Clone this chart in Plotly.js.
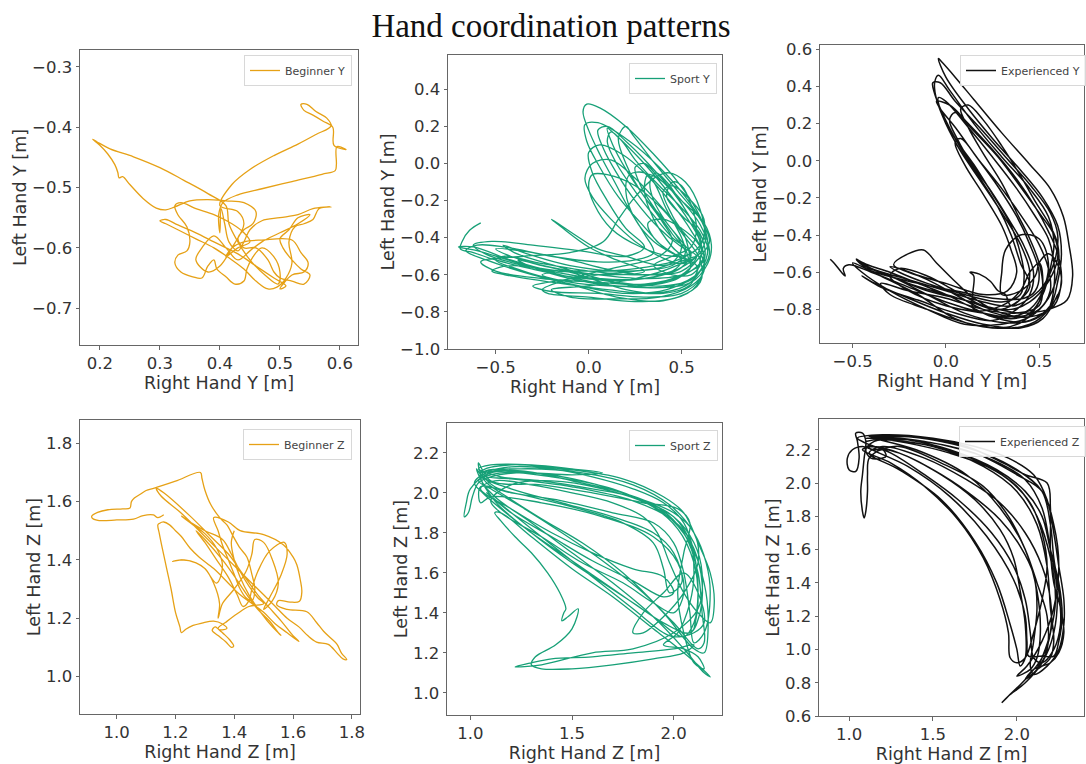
<!DOCTYPE html>
<html><head><meta charset="utf-8">
<script src="https://cdn.plot.ly/plotly-3.0.1.min.js"></script>
<style>html,body{margin:0;padding:0;background:#fff}#chart{width:1086px;height:764px}</style>
</head><body><div id="chart"></div>
<script>
// ---- data (x = right hand, y = left hand) ----
const beginnerY = [
[0.40,-0.53],[0.42,-0.495],[0.45,-0.47],[0.49,-0.447],[0.53,-0.428],[0.56,-0.412],[0.585,-0.398],[0.578,-0.385],[0.56,-0.374],[0.545,-0.362],[0.535,-0.362],[0.54,-0.372],[0.555,-0.38],[0.572,-0.39],[0.588,-0.4],[0.59,-0.43],[0.61,-0.437],[0.595,-0.432],[0.594,-0.462],[0.592,-0.472],[0.57,-0.478],[0.52,-0.49],[0.47,-0.502],[0.43,-0.512],[0.405,-0.525],
[0.398,-0.545],[0.40,-0.575],[0.402,-0.535],[0.408,-0.56],[0.415,-0.59],[0.43,-0.605],[0.44,-0.59],[0.45,-0.57],[0.47,-0.555],[0.5,-0.55],[0.53,-0.545],[0.555,-0.535],[0.585,-0.532],[0.565,-0.535],[0.555,-0.553],[0.54,-0.56],[0.525,-0.565],[0.515,-0.59],[0.52,-0.625],[0.51,-0.65],[0.495,-0.665],[0.48,-0.668],[0.46,-0.655],[0.44,-0.635],[0.42,-0.62],[0.39,-0.6],[0.36,-0.585],[0.33,-0.57],[0.31,-0.56],[0.3,-0.555],[0.31,-0.553],[0.33,-0.562],[0.36,-0.575],[0.39,-0.59],[0.43,-0.61],[0.46,-0.63],[0.49,-0.65],[0.51,-0.663],[0.5,-0.668],
[0.52,-0.645],[0.54,-0.64],[0.547,-0.625],[0.535,-0.608],[0.52,-0.587],[0.47,-0.587],[0.44,-0.59],[0.42,-0.6],[0.41,-0.615],[0.43,-0.6],[0.45,-0.59],[0.44,-0.575],[0.42,-0.56],[0.39,-0.545],[0.36,-0.535],[0.335,-0.525],[0.325,-0.53],[0.33,-0.545],[0.345,-0.565],[0.35,-0.59],[0.345,-0.605],[0.33,-0.612],[0.325,-0.625],[0.335,-0.64],[0.355,-0.648],[0.37,-0.65],[0.38,-0.63],[0.39,-0.62],[0.395,-0.635],[0.41,-0.648],[0.425,-0.66],[0.44,-0.655],[0.445,-0.635],[0.455,-0.615],[0.47,-0.6],[0.49,-0.615],[0.5,-0.64],[0.497,-0.66],
[0.475,-0.645],[0.45,-0.62],[0.43,-0.59],[0.415,-0.56],[0.41,-0.53],
[0.38,-0.51],[0.34,-0.488],[0.3,-0.467],[0.256,-0.449],[0.217,-0.436],[0.195,-0.424],[0.188,-0.42],[0.2,-0.43],[0.213,-0.444],[0.225,-0.462],[0.23,-0.475],[0.232,-0.484],[0.238,-0.482],[0.25,-0.495],[0.272,-0.518],[0.294,-0.534],[0.31,-0.537],[0.325,-0.532],[0.35,-0.522],[0.38,-0.52],[0.41,-0.522],[0.44,-0.525],[0.46,-0.54],
[0.455,-0.56],[0.44,-0.57],[0.43,-0.585],[0.44,-0.6],[0.46,-0.6],[0.48,-0.62],[0.49,-0.64],[0.5,-0.65],[0.52,-0.655],[0.54,-0.66],[0.55,-0.645],[0.535,-0.635],[0.52,-0.62],[0.505,-0.6],[0.5,-0.585],[0.515,-0.57],[0.53,-0.55],[0.55,-0.545],
[0.53,-0.56],[0.5,-0.575],[0.47,-0.59],[0.45,-0.605],[0.43,-0.62],[0.41,-0.6],[0.39,-0.58],[0.37,-0.6],[0.36,-0.62],[0.38,-0.64],[0.4,-0.63],[0.42,-0.6],[0.44,-0.56],[0.43,-0.54],[0.4,-0.53]
];
const sportY = [
[-0.58,-0.32],[-0.64,-0.36],[-0.68,-0.42],[-0.69,-0.46],[-0.62,-0.48],[-0.5,-0.52],[-0.3,-0.57],[-0.1,-0.61],[0.1,-0.63],[0.3,-0.62],[0.48,-0.57],[0.6,-0.48],[0.63,-0.38],[0.58,-0.25],[0.48,-0.1],[0.35,0.05],[0.2,0.2],[0.06,0.3],[-0.01,0.32],[-0.03,0.28],[0.0,0.18],[0.06,0.05],[0.14,-0.1],[0.22,-0.25],[0.3,-0.38],[0.35,-0.48],[0.25,-0.52],[0.05,-0.53],
[-0.2,-0.5],[-0.45,-0.45],[-0.6,-0.44],[-0.66,-0.47],[-0.55,-0.52],[-0.3,-0.6],[-0.05,-0.66],[0.2,-0.7],[0.42,-0.68],[0.58,-0.6],[0.64,-0.48],[0.62,-0.34],[0.52,-0.18],[0.38,-0.02],[0.22,0.12],[0.05,0.22],[-0.02,0.21],[-0.01,0.12],[0.06,-0.02],[0.16,-0.18],[0.28,-0.32],[0.4,-0.45],[0.5,-0.52],
[0.45,-0.58],[0.25,-0.6],[0.0,-0.58],[-0.25,-0.54],[-0.45,-0.5],[-0.5,-0.52],[-0.35,-0.58],[-0.1,-0.65],[0.15,-0.72],[0.4,-0.74],[0.56,-0.68],[0.62,-0.56],[0.6,-0.42],[0.52,-0.28],[0.4,-0.12],[0.28,0.02],[0.15,0.15],[0.1,0.19],[0.13,0.1],[0.2,-0.03],[0.3,-0.18],[0.4,-0.32],[0.45,-0.42],
[0.38,-0.5],[0.15,-0.56],[-0.1,-0.62],[-0.25,-0.68],[-0.22,-0.7],[0.0,-0.72],[0.25,-0.745],[0.48,-0.72],[0.6,-0.64],[0.6,-0.52],[0.52,-0.4],[0.4,-0.25],[0.25,-0.12],[0.1,-0.06],[0.02,-0.06],[0.0,-0.12],[0.03,-0.22],[0.12,-0.35],[0.28,-0.45],[0.45,-0.5],[0.56,-0.48],
[0.62,-0.4],[0.6,-0.25],[0.52,-0.1],[0.43,-0.05],[0.35,-0.08],[0.25,-0.18],[0.16,-0.3],[0.08,-0.42],[-0.1,-0.48],[-0.35,-0.5],[-0.58,-0.53],[-0.5,-0.58],[-0.25,-0.62],[0.05,-0.64],[0.3,-0.65],[0.5,-0.6],[0.6,-0.5],[0.65,-0.42],
[0.6,-0.3],[0.48,-0.15],[0.34,0.02],[0.24,0.15],[0.2,0.2],[0.16,0.14],[0.2,0.0],[0.3,-0.18],[0.42,-0.32],[0.5,-0.45],[0.44,-0.54],[0.2,-0.58],[-0.1,-0.55],[-0.32,-0.49],[-0.46,-0.44],[-0.4,-0.48],[-0.15,-0.56],[0.1,-0.63],[0.35,-0.67],[0.55,-0.64],[0.64,-0.54],
[0.66,-0.44],[0.62,-0.32],[0.5,-0.2],[0.38,-0.08],[0.3,0.0],[0.25,-0.02],[0.28,-0.12],[0.36,-0.25],[0.45,-0.38],[0.52,-0.48],[0.45,-0.55],[0.25,-0.58],[0.05,-0.6],[-0.15,-0.63],[-0.3,-0.66],[-0.2,-0.69],[0.05,-0.7],[0.3,-0.72],[0.5,-0.7],[0.6,-0.62],
[0.62,-0.5],[0.55,-0.36],[0.45,-0.22],[0.3,-0.05],[0.18,0.05],[0.06,0.1],[0.0,0.06],[0.02,-0.05],[0.1,-0.2],[0.2,-0.35],[0.3,-0.45],[0.2,-0.5],[-0.05,-0.47],[-0.3,-0.44],[-0.52,-0.42],[-0.62,-0.44],[-0.55,-0.49],[-0.35,-0.55],[-0.1,-0.6],[0.15,-0.64],[0.4,-0.66],[0.56,-0.62],
[0.6,-0.52],[0.6,-0.4],[0.52,-0.25],[0.42,-0.1],[0.36,-0.05],[0.33,-0.1],[0.35,-0.2],[0.42,-0.32],[0.5,-0.42],[0.55,-0.5],[0.45,-0.56],[0.25,-0.62],[0.0,-0.66],[-0.2,-0.68],[-0.1,-0.72],[0.15,-0.73],[0.38,-0.72],[0.55,-0.66],[0.62,-0.58],
[0.6,-0.48],[0.5,-0.36],[0.38,-0.22],[0.25,-0.08],[0.12,0.02],[0.02,0.0],[-0.02,-0.08],[0.02,-0.18],[0.12,-0.3],[0.25,-0.42],[0.38,-0.5],[0.5,-0.54],[0.58,-0.5],
[0.4,-0.55],[0.2,-0.5],[0.05,-0.46],[-0.05,-0.4],[-0.2,-0.3],[-0.15,-0.34],[0.0,-0.45],[0.15,-0.52],
[0.3,-0.58],[0.1,-0.6],[-0.15,-0.58],[-0.4,-0.55],[-0.48,-0.56],[-0.52,-0.58],[-0.45,-0.6],[-0.2,-0.64],[0.1,-0.68],[0.35,-0.7],[0.52,-0.66],[0.6,-0.58],[0.64,-0.46],[0.6,-0.36],[0.5,-0.24],[0.38,-0.12],[0.25,0.02],[0.18,0.12],[0.12,0.17],[0.1,0.12],[0.15,0.0],[0.25,-0.15],[0.35,-0.28],[0.45,-0.4],[0.55,-0.48],
[0.5,-0.56],[0.3,-0.62],[0.05,-0.62],[-0.2,-0.58],[-0.42,-0.52],[-0.62,-0.45],[-0.7,-0.45],[-0.6,-0.47],[-0.4,-0.53],[-0.15,-0.6],[0.15,-0.66],[0.45,-0.66],[0.6,-0.58],[0.65,-0.48],[0.6,-0.33],[0.5,-0.2],[0.4,-0.1],[0.32,-0.06],
[0.3,-0.15],[0.35,-0.3],[0.45,-0.45],[0.55,-0.55],[0.48,-0.62],[0.3,-0.66],[0.1,-0.66],[-0.1,-0.64],[-0.25,-0.6],[-0.12,-0.58],[0.1,-0.58],[0.3,-0.56],[0.48,-0.52],[0.6,-0.44],[0.62,-0.3],[0.55,-0.2],[0.45,-0.12],[0.4,-0.15],[0.45,-0.28],[0.52,-0.4],
[0.55,-0.55],[0.5,-0.4],[0.42,-0.25],[0.35,-0.1],[0.3,-0.05],[0.22,-0.06],[0.2,-0.15],[0.25,-0.3],[0.35,-0.42],[0.48,-0.5],[0.58,-0.55],[0.55,-0.65],[0.4,-0.7],[0.2,-0.68],[-0.05,-0.6],[-0.25,-0.55],[-0.38,-0.52],[-0.3,-0.56],[-0.1,-0.62],[0.15,-0.66],[0.4,-0.64],[0.55,-0.58],[0.62,-0.5],[0.58,-0.42],[0.5,-0.35],[0.4,-0.3],[0.32,-0.32],[0.35,-0.4],[0.45,-0.48],[0.55,-0.52],
[0.6,-0.45],[0.55,-0.3],[0.45,-0.15],[0.32,0.0],[0.2,0.12],[0.1,0.2],[0.05,0.18],[0.08,0.08],[0.15,-0.05],[0.25,-0.2],[0.38,-0.35],[0.5,-0.45],[0.58,-0.5],[0.5,-0.58],[0.3,-0.6],[0.1,-0.57],[-0.1,-0.52],[-0.3,-0.48],[-0.5,-0.46],[-0.42,-0.5],[-0.2,-0.56],[0.05,-0.6],[0.3,-0.62],[0.5,-0.6],[0.62,-0.52],
[0.6,-0.38],[0.5,-0.28],[0.42,-0.18],[0.45,-0.1],[0.5,-0.12],[0.55,-0.22],[0.58,-0.35],[0.55,-0.45],[0.45,-0.5],[0.35,-0.55],[0.45,-0.6],[0.55,-0.6],[0.6,-0.55]
];
const experiencedY = [
[-0.62,-0.53],[-0.6,-0.55],[-0.56,-0.6],[-0.54,-0.62],[-0.55,-0.58],[-0.52,-0.56],[-0.4,-0.6],[-0.2,-0.68],[0.0,-0.76],[0.2,-0.82],[0.35,-0.85],[0.45,-0.82],[0.52,-0.72],[0.56,-0.58],[0.58,-0.45],[0.55,-0.3],[0.45,-0.15],[0.3,0.02],[0.15,0.2],[0.02,0.38],[-0.04,0.46],[-0.06,0.42],[-0.05,0.33],[0.0,0.2],[0.08,0.05],[0.18,-0.1],[0.3,-0.28],[0.4,-0.45],[0.45,-0.6],[0.42,-0.72],[0.35,-0.78],
[0.2,-0.76],[0.0,-0.7],[-0.2,-0.64],[-0.4,-0.58],[-0.48,-0.53],[-0.45,-0.56],[-0.3,-0.62],[-0.1,-0.72],[0.1,-0.82],[0.3,-0.87],[0.45,-0.86],[0.56,-0.78],[0.6,-0.65],[0.62,-0.5],[0.6,-0.35],[0.52,-0.2],[0.4,-0.05],[0.25,0.12],[0.12,0.28],[0.0,0.45],[-0.04,0.55],[-0.02,0.53],[0.05,0.45],[0.15,0.33],[0.3,0.15],[0.45,-0.02],[0.56,-0.15],[0.63,-0.3],[0.66,-0.45],[0.68,-0.62],[0.65,-0.75],[0.55,-0.8],
[0.4,-0.82],[0.2,-0.78],[0.0,-0.72],[-0.2,-0.66],[-0.35,-0.6],[-0.42,-0.58],[-0.35,-0.62],[-0.15,-0.72],[0.05,-0.85],[0.25,-0.9],[0.45,-0.88],[0.55,-0.8],[0.58,-0.68],[0.58,-0.55],[0.55,-0.42],[0.48,-0.3],[0.38,-0.15],[0.25,0.02],[0.12,0.18],[0.0,0.32],[-0.04,0.34],[-0.02,0.25],[0.05,0.12],[0.15,-0.02],[0.25,-0.18],[0.35,-0.35],[0.4,-0.5],[0.42,-0.62],[0.4,-0.72],
[0.3,-0.76],[0.1,-0.72],[-0.1,-0.66],[-0.25,-0.6],[-0.3,-0.57],[-0.25,-0.58],[-0.1,-0.64],[0.05,-0.72],[0.2,-0.8],[0.38,-0.84],[0.5,-0.8],[0.56,-0.7],[0.55,-0.58],[0.5,-0.45],[0.42,-0.32],[0.3,-0.15],[0.18,0.0],[0.08,0.12],[0.05,0.1],[0.1,-0.02],[0.2,-0.18],[0.3,-0.35],[0.35,-0.48],[0.38,-0.6],[0.33,-0.7],
[0.2,-0.72],[0.0,-0.66],[-0.2,-0.6],[-0.28,-0.56],[-0.2,-0.5],[-0.12,-0.48],[-0.05,-0.55],[0.05,-0.65],[0.15,-0.74],[0.3,-0.82],[0.45,-0.84],[0.58,-0.78],[0.62,-0.64],[0.6,-0.5],[0.55,-0.38],[0.48,-0.25],[0.38,-0.1],[0.25,0.06],[0.12,0.2],[0.02,0.3],[-0.05,0.32],[-0.03,0.28],[0.05,0.18],[0.15,0.04],[0.28,-0.14],[0.38,-0.3],[0.45,-0.45],[0.5,-0.6],[0.48,-0.7],
[0.42,-0.74],[0.25,-0.74],[0.05,-0.7],[-0.15,-0.66],[-0.38,-0.6],[-0.5,-0.55],[-0.45,-0.6],[-0.3,-0.7],[-0.1,-0.8],[0.1,-0.88],[0.3,-0.88],[0.45,-0.84],[0.55,-0.74],[0.6,-0.6],[0.6,-0.45],[0.56,-0.35],[0.48,-0.22],[0.4,-0.08],[0.3,0.08],[0.2,0.22],[0.12,0.3],[0.08,0.28],[0.12,0.18],[0.2,0.04],[0.3,-0.12],[0.38,-0.28],[0.45,-0.42],[0.5,-0.55],[0.52,-0.68],[0.5,-0.78],
[0.38,-0.82],[0.2,-0.8],[0.0,-0.74],[-0.2,-0.7],[-0.35,-0.66],[-0.3,-0.72],[-0.1,-0.8],[0.1,-0.87],[0.3,-0.9],[0.42,-0.86],[0.5,-0.76],[0.52,-0.64],[0.5,-0.55],[0.45,-0.6],[0.4,-0.7],[0.3,-0.78],[0.15,-0.8],
[0.15,-0.62],[0.13,-0.6],[0.18,-0.61],[0.24,-0.65],[0.28,-0.7],[0.32,-0.72],
[0.35,-0.78],[0.5,-0.7],[0.58,-0.55],[0.6,-0.4],[0.56,-0.28],[0.46,-0.14],[0.32,0.02],[0.18,0.18],[0.05,0.32],[-0.03,0.42],[-0.07,0.42],[-0.06,0.36],[-0.02,0.26],[0.05,0.12],[0.12,0.0],[0.2,-0.12],[0.28,-0.25],[0.35,-0.4],[0.4,-0.55],[0.45,-0.68],
[0.3,-0.8],[0.1,-0.75],[-0.1,-0.7],[-0.25,-0.64],[-0.4,-0.58],[-0.48,-0.53],[-0.42,-0.56],[-0.3,-0.6],[-0.15,-0.66],[0.0,-0.72],[0.12,-0.78],[0.25,-0.84],[0.4,-0.87],[0.5,-0.84],[0.58,-0.76],[0.62,-0.66],[0.6,-0.56],[0.55,-0.5],[0.5,-0.55],[0.48,-0.62],
[0.4,-0.7],[0.3,-0.72],[0.3,-0.6],[0.32,-0.48],[0.4,-0.4],[0.5,-0.42],[0.55,-0.55],[0.52,-0.7],[0.45,-0.8],[0.35,-0.84],
[0.2,-0.82],[0.0,-0.78],[-0.2,-0.7],[-0.3,-0.62],[-0.25,-0.58],[-0.1,-0.62],[0.05,-0.7],[0.2,-0.78],[0.35,-0.8],[0.45,-0.76],[0.55,-0.65],[0.6,-0.52],[0.58,-0.4],[0.5,-0.28],[0.4,-0.14],[0.28,0.02],[0.15,0.16],[0.05,0.26],[0.02,0.22],[0.06,0.12],[0.14,-0.02],[0.24,-0.16],[0.34,-0.32],[0.42,-0.46],[0.47,-0.6],[0.45,-0.72],[0.38,-0.8],
[0.25,-0.86],[0.05,-0.82],[-0.15,-0.75],[-0.35,-0.68],[-0.45,-0.62],[-0.38,-0.66],[-0.2,-0.74],[0.0,-0.82],[0.2,-0.88],[0.4,-0.9],[0.52,-0.85],[0.6,-0.72]
];
const beginnerZ = [
[1.16,1.555],[1.14,1.545],[1.125,1.554],[1.09,1.552],[1.057,1.54],[1.0,1.537],[0.94,1.535],[0.918,1.542],[0.915,1.55],[0.935,1.563],[0.97,1.572],[1.02,1.575],[1.045,1.578],[1.05,1.6],[1.06,1.612],[1.08,1.625],[1.1,1.638],[1.128,1.646],[1.2,1.67],[1.285,1.7],[1.29,1.68],[1.3,1.64],[1.32,1.59],[1.352,1.543],[1.375,1.52],[1.398,1.478],[1.42,1.44],[1.443,1.41],[1.46,1.35],[1.47,1.3],[1.46,1.26],[1.44,1.27],[1.42,1.3],[1.4,1.35],[1.38,1.4],[1.36,1.45],[1.345,1.5],
[1.33,1.545],[1.38,1.53],[1.42,1.5],[1.5,1.487],[1.567,1.452],[1.6,1.41],[1.613,1.383],[1.625,1.33],[1.63,1.29],[1.622,1.258],[1.59,1.255],[1.55,1.26],[1.545,1.245],[1.58,1.23],[1.647,1.222],[1.68,1.185],[1.704,1.155],[1.73,1.13],[1.75,1.11],[1.765,1.08],[1.783,1.058],[1.77,1.06],[1.75,1.08],[1.72,1.11],[1.68,1.118],[1.65,1.14],[1.62,1.17],[1.58,1.2],[1.54,1.24],[1.5,1.28],[1.46,1.32],[1.42,1.36],
[1.38,1.4],[1.3,1.48],[1.22,1.56],[1.15,1.62],[1.135,1.645],[1.16,1.63],[1.25,1.55],[1.32,1.48],[1.38,1.42],[1.43,1.35],[1.48,1.28],[1.52,1.235],[1.56,1.19],[1.6,1.14],[1.62,1.12],
[1.58,1.15],[1.54,1.18],[1.5,1.22],[1.46,1.25],[1.42,1.28],[1.38,1.32],[1.33,1.37],[1.28,1.41],[1.25,1.44],[1.22,1.48],[1.2,1.5],[1.18,1.52],[1.16,1.53],[1.145,1.525],[1.14,1.52],
[1.145,1.49],[1.155,1.44],[1.17,1.37],[1.185,1.3],[1.2,1.22],[1.215,1.17],[1.22,1.15],[1.235,1.162],[1.26,1.175],[1.29,1.183],[1.33,1.19],[1.36,1.18],[1.375,1.165],[1.35,1.16],[1.335,1.17],[1.325,1.158],[1.345,1.14],[1.37,1.12],[1.39,1.1],[1.398,1.104],[1.385,1.125],[1.36,1.15],[1.345,1.165],[1.37,1.185],[1.41,1.215],[1.45,1.24],[1.5,1.25],
[1.48,1.27],[1.45,1.31],[1.42,1.36],[1.39,1.42],[1.36,1.47],[1.3,1.5],[1.25,1.53],[1.22,1.55],[1.26,1.52],[1.3,1.49],[1.34,1.44],[1.36,1.38],[1.34,1.32],[1.3,1.37],[1.27,1.39],[1.23,1.4],[1.19,1.395],[1.22,1.4],[1.27,1.39],[1.3,1.37],[1.33,1.32],[1.35,1.25],[1.345,1.2],
[1.36,1.25],[1.4,1.3],[1.44,1.36],[1.46,1.42],[1.47,1.47],[1.5,1.46],[1.53,1.4],[1.55,1.32],[1.53,1.26],[1.5,1.23],[1.52,1.27],[1.56,1.35],[1.58,1.42],[1.57,1.46],
[1.52,1.43],[1.48,1.36],[1.46,1.3],[1.45,1.26],[1.43,1.24],[1.41,1.28],[1.38,1.34],[1.34,1.4],[1.3,1.46],[1.27,1.5],[1.3,1.47],[1.36,1.4],[1.41,1.33],[1.45,1.27],[1.48,1.23],[1.52,1.19],[1.55,1.15],[1.56,1.14],[1.53,1.17],[1.49,1.22],[1.45,1.28],[1.42,1.34],[1.4,1.4],[1.39,1.46],[1.4,1.5]
];
const sportZ = [
[1.05,2.1],[1.2,2.13],[1.4,2.12],[1.6,2.08],[1.8,2.02],[1.95,1.95],[2.05,1.85],[2.1,1.7],[2.12,1.5],[2.1,1.35],[2.05,1.28],[1.9,1.38],[1.7,1.52],[1.5,1.66],[1.3,1.8],[1.15,1.92],[1.06,2.0],
[1.02,2.05],[1.08,2.1],[1.25,2.11],[1.5,2.06],[1.75,2.0],[1.92,1.93],[2.05,1.8],[2.12,1.6],[2.14,1.4],[2.15,1.25],[2.12,1.22],[2.0,1.35],[1.85,1.5],[1.65,1.66],[1.45,1.8],[1.25,1.93],[1.1,2.02],
[1.04,2.06],[1.15,2.1],[1.4,2.08],[1.7,2.02],[1.95,1.9],[2.08,1.75],[2.15,1.55],[2.17,1.35],[2.15,1.2],[2.1,1.22],[1.95,1.4],[1.75,1.6],[1.55,1.75],[1.35,1.87],[1.18,1.98],[1.08,2.05],
[1.03,2.12],[1.06,2.05],[1.12,1.98],[1.3,1.85],[1.5,1.7],[1.7,1.55],[1.9,1.38],[2.05,1.22],[2.15,1.1],[2.18,1.08],[2.14,1.12],[2.05,1.2],[1.9,1.32],[1.7,1.48],[1.5,1.62],[1.3,1.78],[1.15,1.9],
[1.12,1.9],[1.15,1.86],[1.22,1.78],[1.3,1.7],[1.38,1.6],[1.44,1.5],[1.47,1.42],[1.46,1.4],[1.45,1.36],[1.48,1.38],[1.53,1.42],[1.5,1.32],[1.42,1.24],[1.32,1.18],[1.3,1.14],[1.35,1.12],[1.5,1.12],[1.7,1.14],[1.9,1.17],[2.05,1.2],[2.1,1.24],[2.0,1.22],[1.8,1.2],[1.6,1.18],[1.4,1.17],[1.3,1.15],[1.22,1.13],[1.35,1.14],[1.6,1.2],[1.8,1.22],[2.0,1.3],[2.12,1.42],[2.14,1.6],[2.1,1.75],[2.0,1.88],[1.8,1.98],[1.55,2.06],[1.3,2.1],[1.1,2.1],
[1.0,2.02],[0.98,1.95],[0.97,1.88],[0.99,1.9],[1.01,1.98],[1.04,2.05],[1.1,2.08],[1.3,2.1],[1.55,2.06],[1.8,1.98],[2.0,1.88],[2.1,1.72],[2.14,1.55],[2.13,1.4],[2.08,1.3],[1.95,1.35],[1.8,1.45],[1.65,1.55],[1.5,1.65],[1.3,1.8],[1.12,1.96],
[1.05,2.1],[1.2,2.14],[1.45,2.12],[1.75,2.07],[1.95,1.98],[2.05,1.9],[2.12,1.75],[2.18,1.6],[2.2,1.45],[2.18,1.35],[2.12,1.4],[2.05,1.5],[1.98,1.65],[1.92,1.8],[1.85,1.88],[1.7,1.95],[1.5,2.0],[1.3,2.04],[1.12,2.06],
[1.05,2.02],[1.2,1.92],[1.4,1.8],[1.6,1.7],[1.8,1.62],[1.95,1.58],[2.0,1.5],[1.95,1.48],[1.8,1.56],[1.6,1.66],[1.4,1.78],[1.2,1.9],
[1.08,2.0],[1.3,1.82],[1.55,1.62],[1.8,1.42],[1.95,1.3],[2.0,1.28],[2.1,1.3],[2.15,1.35],[2.12,1.5],[2.05,1.6],[1.95,1.5],[1.85,1.4],[1.8,1.3],[1.85,1.3],[1.95,1.38],[2.05,1.5],[2.12,1.65],[2.1,1.8],[2.0,1.9],[1.8,1.98],[1.6,2.02],[1.35,2.06],[1.15,2.08],
[1.04,2.12],[1.1,2.14],[1.3,2.14],[1.5,2.12],[1.65,2.1],[1.5,2.09],[1.3,2.1],[1.15,2.1],[1.08,2.08],[1.2,2.07],[1.5,2.03],[1.8,1.96],[2.0,1.86],[2.08,1.76],[2.1,1.6],[2.08,1.45],
[2.02,1.3],[1.95,1.24],[2.05,1.22],[2.12,1.18],[2.15,1.12],[2.1,1.15],[2.05,1.3],[2.02,1.5],[2.05,1.7],[2.08,1.85],[2.02,1.92],[1.85,1.95],[1.6,2.0],[1.35,2.04],[1.1,2.06],[1.04,2.15],[1.06,2.08],[1.2,2.02],[1.45,1.95],[1.7,1.88],[1.9,1.8],[2.0,1.7],[2.04,1.55],
[1.98,1.5],[1.95,1.62],[1.9,1.75],[1.75,1.85],[1.5,1.93],[1.3,1.98],[1.12,2.03],[1.06,2.1],[1.25,2.12],[1.55,2.1],[1.8,2.04],[1.98,1.94],[2.1,1.8],[2.16,1.65],[2.18,1.5],[2.15,1.3],[2.1,1.25],[2.08,1.4],[2.05,1.6],[2.0,1.75],[1.9,1.85],[1.7,1.9],[1.45,1.96],[1.2,2.0],[1.05,2.03],
[1.05,1.95],[1.1,1.98],[1.35,1.95],[1.65,1.88],[1.9,1.78],[2.02,1.65],[2.05,1.5],[2.0,1.4],[1.9,1.45],[1.75,1.55],[1.55,1.65],[1.35,1.78],[1.15,1.9],[1.1,1.96],[1.2,2.04],[1.4,2.06],[1.65,2.02],[1.88,1.94],[2.02,1.82],[2.1,1.65],[2.12,1.45],[2.1,1.32]
];
const experiencedZ = [
[1.1,2.25],[1.3,2.28],[1.55,2.25],[1.8,2.18],[2.0,2.08],[2.15,1.95],[2.2,1.75],[2.22,1.55],[2.25,1.35],[2.26,1.15],[2.22,1.0],[2.15,0.92],[2.1,0.95],[2.08,1.1],[2.05,1.3],[1.98,1.5],[1.85,1.7],[1.65,1.9],[1.45,2.05],[1.25,2.18],[1.1,2.24],
[1.05,2.27],[1.2,2.29],[1.5,2.27],[1.75,2.22],[1.95,2.15],[2.1,2.05],[2.18,1.9],[2.22,1.7],[2.25,1.5],[2.28,1.3],[2.28,1.15],[2.25,1.0],[2.18,0.9],[2.1,0.85],[2.08,0.9],[2.1,1.05],[2.12,1.25],[2.1,1.45],[2.02,1.62],[1.9,1.78],[1.7,1.95],[1.5,2.08],[1.3,2.18],[1.15,2.22],
[1.08,2.2],[1.25,2.12],[1.45,1.98],[1.65,1.78],[1.8,1.55],[1.9,1.3],[1.95,1.1],[1.96,0.95],[2.0,0.92],[2.05,0.95],[2.1,1.1],[2.15,1.3],[2.18,1.5],[2.15,1.7],[2.08,1.88],[1.95,2.02],[1.75,2.14],[1.5,2.22],[1.25,2.26],
[1.1,2.27],[1.35,2.26],[1.6,2.22],[1.85,2.14],[2.05,2.02],[2.15,1.85],[2.2,1.6],[2.24,1.35],[2.22,1.1],[2.15,0.92],[2.05,0.8],[1.95,0.72],[1.91,0.68],[1.95,0.72],[2.05,0.82],[2.15,0.95],[2.2,1.1],[2.2,1.3],[2.15,1.5],[2.05,1.7],[1.9,1.88],[1.7,2.02],[1.45,2.15],[1.2,2.22],
[1.12,2.18],[1.3,2.08],[1.55,1.9],[1.75,1.65],[1.88,1.4],[1.96,1.15],[2.0,1.0],[2.02,0.9],[2.05,0.95],[2.05,1.15],[2.02,1.35],[1.98,1.55],[1.9,1.72],[1.75,1.9],[1.55,2.05],[1.3,2.18],
[1.1,2.22],[1.35,2.1],[1.6,1.92],[1.82,1.68],[1.98,1.42],[2.05,1.2],[2.06,1.05],[2.07,0.96],[2.15,0.96],[2.22,0.96],[2.25,1.05],[2.27,1.2],[2.25,1.4],[2.2,1.6],[2.15,1.8],[2.05,1.95],[1.88,2.08],[1.6,2.2],[1.35,2.26],
[1.12,2.28],[1.4,2.28],[1.7,2.22],[1.92,2.12],[2.05,2.05],[2.18,2.0],[2.2,1.85],[2.2,1.6],[2.22,1.4],[2.26,1.25],[2.28,1.1],[2.25,0.98],[2.2,0.92],[2.1,0.88],[2.05,0.82],[2.12,0.88],[2.18,1.0],[2.18,1.2],[2.12,1.4],[2.05,1.6],[1.95,1.8],[1.8,1.98],[1.55,2.12],[1.3,2.22],
[1.15,2.2],[1.08,2.22],[1.02,2.2],[0.99,2.15],[1.0,2.08],[1.04,2.07],[1.06,2.15],[1.05,2.25],[1.04,2.3],[1.08,2.3],[1.1,2.25],[1.09,2.15],[1.08,2.05],[1.07,1.95],[1.08,1.83],[1.09,1.79],[1.1,1.83],[1.11,1.95],[1.11,2.05],[1.12,2.15],[1.2,2.2],[1.22,2.16],[1.13,2.15],[1.1,2.2],[1.15,2.25],
[1.2,2.26],[1.5,2.22],[1.8,2.1],[2.0,1.95],[2.12,1.75],[2.18,1.5],[2.2,1.25],[2.22,1.05],[2.2,0.95],[2.15,0.9],[2.12,0.88],[2.15,0.95],[2.2,1.1],[2.23,1.3],[2.2,1.55],[2.12,1.8],[2.0,1.98],[1.82,2.1],[1.6,2.18],[1.35,2.24],
[1.15,2.27],[1.4,2.2],[1.7,2.05],[1.9,1.85],[2.05,1.6],[2.12,1.35],[2.14,1.1],[2.12,0.95],[2.08,0.88],[2.0,0.84],[2.06,0.9],[2.15,1.05],[2.22,1.25],[2.25,1.5],[2.22,1.75],[2.15,1.95],[2.0,2.05],[1.75,2.18],[1.45,2.25],[1.2,2.28]
];
const panelNames = ['Beginner Y','Sport Y','Experienced Y','Beginner Z','Sport Z','Experienced Z'];
const xTitles = ['Right Hand Y [m]','Right Hand Y [m]','Right Hand Y [m]','Right Hand Z [m]','Right Hand Z [m]','Right Hand Z [m]'];
const yTitles = ['Left Hand Y [m]','Left Hand Y [m]','Left Hand Y [m]','Left Hand Z [m]','Left Hand Z [m]','Left Hand Z [m]'];

// ---- styling / layout ----
const ORANGE = '#e6a116', GREEN = '#17a077', BLACK = '#111111';
const series = [beginnerY, sportY, experiencedY, beginnerZ, sportZ, experiencedZ];
const colors = [ORANGE, GREEN, BLACK, ORANGE, GREEN, BLACK];
const widths = [1.3, 1.3, 1.5, 1.3, 1.3, 1.5];
const W = 1086, H = 764;
const boxes = [ // pixel boxes [left,right,top,bottom]
  [80,358,50,345],[448,722,55,349],[820,1084,45,343],
  [80,360,420,714],[447,722,423,715],[819,1084,419,716]
];
const xRanges = [[0.167,0.63],[-0.756,0.717],[-0.675,0.741],[0.875,1.828],[0.885,2.238],[0.821,2.40]];
const yRanges = [[-0.761,-0.272],[-1.0,0.585],[-0.981,0.623],[0.871,1.88],[0.889,2.349],[0.6,2.385]];
const xDt = [0.1,0.5,0.5,0.2,0.5,0.5];
const yDt = [0.1,0.2,0.2,0.2,0.2,0.2];
const legPos = [[352,55],[717,63],[1086,55],[352,429],[718,430],[1086,426]];

const traces = [];
const layout = {
  width: W, height: H,
  margin: {l:0,r:0,t:0,b:0},
  paper_bgcolor: '#fff', plot_bgcolor: '#fff',
  font: {family: 'DejaVu Sans', color: '#333'},
  title: {text: 'Hand coordination patterns', font: {family: 'Liberation Serif', size: 33, color: '#111'},
          x: 551/W, xanchor: 'center', xref: 'container', y: 1 - 25/H, yanchor: 'middle', yref: 'container'},
  showlegend: true
};
series.forEach((s, i) => {
  const n = i + 1;
  const sfx = n === 1 ? '' : String(n);
  const legId = n === 1 ? 'legend' : 'legend' + n;
  traces.push({
    type: 'scatter', mode: 'lines',
    x: s.map(p => p[0]), y: s.map(p => p[1]),
    xaxis: 'x' + sfx, yaxis: 'y' + sfx,
    name: panelNames[i], legend: legId,
    line: {color: colors[i], width: widths[i], shape: 'spline', smoothing: 1},
    hoverinfo: 'skip'
  });
  const b = boxes[i];
  const common = {
    showline: true, mirror: true, linecolor: '#666', linewidth: 1,
    ticks: 'outside', ticklen: 3.5, tickcolor: '#666', tickwidth: 1,
    showgrid: false, zeroline: false, tickformat: '.1f',
    tickfont: {family: 'DejaVu Sans', size: 16.5, color: '#333'},
    automargin: false
  };
  layout['xaxis' + sfx] = Object.assign({}, common, {
    domain: [b[0]/W, b[1]/W], range: xRanges[i], dtick: xDt[i], tick0: 0,
    anchor: 'y' + sfx,
    title: {text: xTitles[i], font: {family: 'DejaVu Sans', size: 17.5, color: '#333'}, standoff: 0}
  });
  layout['yaxis' + sfx] = Object.assign({}, common, {
    domain: [1 - b[3]/H, 1 - b[2]/H], range: yRanges[i], dtick: yDt[i], tick0: 0,
    anchor: 'x' + sfx,
    title: {text: yTitles[i], font: {family: 'DejaVu Sans', size: 17.5, color: '#333'}, standoff: 0}
  });
  layout[legId] = {
    x: legPos[i][0]/W, xanchor: 'right', y: 1 - legPos[i][1]/H, yanchor: 'top',
    bgcolor: 'rgba(255,255,255,0.9)', bordercolor: '#d8d8d8', borderwidth: 1,
    font: {family: 'DejaVu Sans', size: 11, color: '#444'}
  };
});
Plotly.newPlot('chart', traces, layout, {staticPlot: true, displayModeBar: false});
</script></body></html>
